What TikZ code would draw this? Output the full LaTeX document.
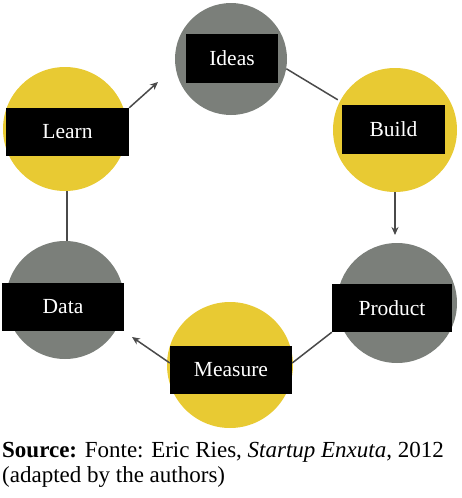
\documentclass[tikz,border=0pt]{standalone}
\usepackage{fontspec}
\setmainfont{Liberation Serif}
\usetikzlibrary{arrows.meta}
\definecolor{cyel}{HTML}{E8CA33}
\definecolor{cgray}{HTML}{7B7F7A}
\definecolor{cline}{HTML}{4A4A4A}
\tikzset{
  yelcirc/.style={circle, fill=cyel, inner sep=0pt},
  graycirc/.style={circle, fill=cgray, inner sep=0pt},
  lbl/.style={rectangle, fill=black, text=white, inner sep=0pt, minimum height=48pt,
    font=\fontsize{21.5pt}{24pt}\selectfont},
  conn/.style={draw=cline, line width=1.5pt},
  arr/.style={conn, -{Stealth[length=8pt, width=7pt]}},
  src/.style={anchor=base west, inner sep=0pt, font=\fontsize{23pt}{25pt}\selectfont}
}
\begin{document}
\begin{tikzpicture}[x=1pt, y=-1pt]
\useasboundingbox (0,0) rectangle (461,498);
% circles
\node[graycirc, minimum size=112pt] (ideas) at (231,59) {};
\node[yelcirc, minimum size=124pt] (learn) at (65,129) {};
\node[yelcirc, minimum size=124pt] (build) at (395,130) {};
\node[graycirc, minimum size=118pt] (data) at (65,300) {};
\node[graycirc, minimum size=120pt] (product) at (397,303) {};
\node[yelcirc, minimum size=126pt] (measure) at (230,365) {};
% label boxes
\node[lbl, minimum width=92pt, minimum height=49pt] (ideasbox) at (232,58.5) {Ideas};
\node[lbl, minimum width=123pt] (learnbox) at (67.5,132) {Learn};
\node[lbl, minimum width=103pt, minimum height=49pt] (buildbox) at (393.5,129.5) {Build};
\node[lbl, minimum width=122pt] (databox) at (63,307) {Data};
\node[lbl, minimum width=120pt] (productbox) at (392,308) {Product};
\node[lbl, minimum width=122pt] (measurebox) at (231,370) {Measure};
% free ends
\coordinate (e1) at (158,82);
\coordinate (e2) at (395,235);
\coordinate (e3) at (132,337);
% connectors
\draw[arr] (learnbox.north east) -- (e1);
\draw[conn] (ideas.-10) -- ([xshift=-4pt,yshift=5pt]buildbox.north west);
\draw[arr] (build.south) -- (e2);
\draw[conn] (productbox.south west) -- ([yshift=7pt]measurebox.east);
\draw[arr] ([yshift=7pt]measurebox.west) -- (e3);
\draw[conn] ([xshift=2pt]learn.south) -- ([xshift=2pt]data.north);
% source
\node[src] (src1) at (2,457) {\textbf{Source:} Fonte: Eric Ries, \textit{Startup Enxuta}, 2012};
\node[src] (src2) at (2,482) {(adapted by the authors)};
\end{tikzpicture}
\end{document}
